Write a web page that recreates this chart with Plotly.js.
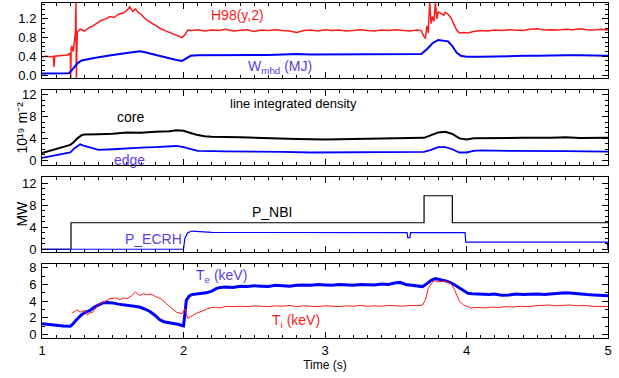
<!DOCTYPE html>
<html><head><meta charset="utf-8">
<script src="https://cdn.plot.ly/plotly-3.0.1.min.js"></script>
<style>html,body{margin:0;padding:0;background:#fff;}#chart{width:619px;height:378px;}</style>
</head><body><div id="chart"></div>
<script>
// ---- Panel 1: H98(y,2) and W_mhd (MJ)
const h98T = [1.00,1.03,1.06,1.08,1.085,1.09,1.12,1.15,1.18,1.20,1.203,1.206,1.21,1.22,1.23,1.236,1.24,1.243,1.247,1.25,1.27,1.30,1.33,1.36,1.39,1.42,1.45,1.48,1.51,1.54,1.57,1.60,1.62,1.64,1.66,1.68,1.70,1.72,1.75,1.78,1.81,1.84,1.87,1.90,1.93,1.96,1.99,2.01,2.03,2.06,2.10,2.15,2.20,2.25,2.30,2.35,2.40,2.45,2.50,2.55,2.60,2.65,2.70,2.75,2.80,2.85,2.90,2.95,3.00,3.05,3.10,3.15,3.20,3.25,3.30,3.35,3.40,3.45,3.50,3.55,3.60,3.65,3.68,3.70,3.71,3.72,3.73,3.74,3.75,3.76,3.77,3.78,3.79,3.80,3.82,3.84,3.85,3.87,3.89,3.91,3.93,3.95,3.98,4.01,4.05,4.10,4.15,4.20,4.25,4.30,4.35,4.40,4.45,4.50,4.55,4.60,4.65,4.70,4.75,4.80,4.85,4.90,4.95,5.00];
const h98V = [0.39,0.40,0.39,0.40,0.17,0.40,0.41,0.42,0.43,0.47,-0.07,0.55,0.62,0.50,0.85,0.90,1.56,-0.07,0.60,0.92,0.98,0.94,1.01,1.05,1.12,1.17,1.20,1.25,1.23,1.30,1.32,1.38,1.46,1.36,1.41,1.34,1.30,1.23,1.16,1.10,1.04,0.99,0.95,0.91,0.88,0.84,0.80,0.86,0.96,0.95,0.97,0.94,0.96,0.95,0.98,0.94,0.96,0.97,0.93,0.96,0.95,0.97,0.95,0.94,0.91,0.95,0.96,0.94,0.97,0.95,0.96,0.94,0.95,0.97,0.95,0.94,0.96,0.95,0.97,0.95,0.94,0.96,0.95,0.82,0.78,1.05,0.90,1.56,1.10,1.25,1.15,1.56,1.20,1.35,1.32,1.28,1.34,1.30,1.22,1.08,0.96,0.90,0.91,0.90,0.93,0.95,0.94,0.96,0.95,0.97,0.96,0.95,0.98,0.99,0.96,0.97,0.96,0.98,0.97,0.99,0.97,0.96,0.98,0.96];
const wmhdT = [1.00,1.10,1.19,1.21,1.23,1.25,1.28,1.32,1.36,1.40,1.45,1.50,1.55,1.60,1.65,1.69,1.72,1.76,1.80,1.85,1.90,1.95,1.99,2.02,2.05,2.10,2.20,2.30,2.40,2.50,2.60,2.70,2.80,2.90,3.00,3.10,3.20,3.30,3.40,3.50,3.60,3.68,3.72,3.76,3.80,3.84,3.87,3.90,3.93,3.96,4.00,4.10,4.20,4.30,4.40,4.50,4.60,4.70,4.80,4.90,5.00];
const wmhdV = [0.03,0.03,0.04,0.10,0.18,0.25,0.31,0.34,0.36,0.38,0.41,0.43,0.45,0.47,0.49,0.51,0.49,0.46,0.42,0.38,0.35,0.32,0.30,0.35,0.41,0.42,0.42,0.43,0.42,0.43,0.43,0.44,0.45,0.44,0.44,0.45,0.44,0.45,0.44,0.45,0.44,0.45,0.55,0.68,0.75,0.74,0.72,0.62,0.48,0.41,0.39,0.39,0.40,0.40,0.41,0.41,0.42,0.42,0.42,0.42,0.41];
// ---- Panel 2: line integrated density (10^19 m^-2)
const coreT = [1.00,1.10,1.20,1.22,1.25,1.28,1.30,1.40,1.50,1.60,1.70,1.80,1.90,1.95,2.00,2.05,2.10,2.15,2.20,2.40,2.60,2.80,2.90,3.00,3.20,3.40,3.60,3.70,3.75,3.80,3.85,3.90,3.95,4.00,4.05,4.20,4.40,4.60,4.70,4.80,5.00];
const coreV = [1.3,2.0,2.8,3.2,4.0,4.6,4.7,4.75,4.85,5.1,5.05,5.2,5.3,5.5,5.4,5.0,4.6,4.4,4.3,4.2,4.0,3.9,3.85,3.8,3.9,3.95,4.0,4.1,4.6,5.1,5.2,4.8,4.0,3.8,4.0,4.1,4.1,4.1,4.2,4.05,4.1];
const edgeT = [1.00,1.10,1.20,1.23,1.27,1.30,1.35,1.40,1.50,1.60,1.70,1.80,1.90,1.95,2.00,2.05,2.10,2.30,2.50,2.70,2.90,3.20,3.50,3.70,3.75,3.80,3.85,3.90,3.95,4.00,4.05,4.10,4.30,4.50,4.70,5.00];
const edgeV = [0.4,0.9,1.4,2.2,2.9,2.6,2.2,1.9,2.0,2.2,2.3,2.4,2.5,2.6,2.4,2.0,1.7,1.6,1.6,1.5,1.4,1.4,1.45,1.5,1.9,2.4,2.4,2.0,1.4,1.4,1.7,1.8,1.7,1.7,1.65,1.55];
// ---- Panel 3: heating power (MW)
const nbiT = [1.0,1.205,3.70,3.90,5.0];
const nbiV = [0,4.8,9.7,4.8,4.8];
const ecrhT = [1.0,2.0,2.01,2.03,2.06,2.2,3.58,3.585,3.60,3.605,3.99,3.995,4.995,5.0];
const ecrhV = [0,0,2.0,3.0,3.3,3.05,3.0,2.1,2.1,3.0,3.0,1.3,1.3,0];
// ---- Panel 4: temperatures (keV)
const teT = [1.00,1.05,1.10,1.15,1.20,1.22,1.25,1.28,1.31,1.34,1.37,1.40,1.43,1.46,1.50,1.54,1.58,1.62,1.66,1.69,1.72,1.76,1.80,1.83,1.86,1.90,1.93,1.96,1.99,2.00,2.01,2.02,2.04,2.06,2.09,2.12,2.16,2.20,2.23,2.26,2.30,2.35,2.40,2.45,2.50,2.55,2.60,2.65,2.70,2.75,2.80,2.85,2.90,2.95,3.00,3.05,3.10,3.15,3.20,3.25,3.30,3.35,3.40,3.45,3.50,3.53,3.57,3.61,3.65,3.69,3.72,3.75,3.78,3.80,3.83,3.86,3.89,3.92,3.95,3.98,4.01,4.04,4.08,4.12,4.16,4.20,4.25,4.30,4.35,4.40,4.45,4.50,4.55,4.60,4.65,4.70,4.75,4.80,4.85,4.90,4.95,5.00];
const teV = [1.30,1.20,1.10,1.05,1.00,1.30,1.90,2.40,2.70,2.90,3.30,3.60,3.80,3.85,3.80,3.65,3.55,3.50,3.40,3.30,3.10,2.80,2.30,1.80,1.55,1.45,1.35,1.25,1.10,1.05,2.50,4.10,4.60,4.80,4.85,4.90,5.00,5.20,5.50,5.65,5.70,5.65,5.80,5.75,5.85,5.80,5.75,5.90,5.85,5.80,5.90,5.95,5.90,6.00,5.95,5.90,6.00,5.95,5.90,6.00,5.95,5.95,6.05,6.00,6.20,6.25,6.00,5.90,5.85,5.75,6.10,6.50,6.70,6.60,6.50,6.40,6.20,5.90,5.55,5.20,4.95,4.90,4.85,4.85,4.80,4.85,4.70,4.75,4.85,4.80,4.85,4.85,4.80,4.85,4.90,5.00,4.95,4.85,4.80,4.75,4.70,4.65];
const tiT = [1.21,1.225,1.245,1.27,1.30,1.32,1.34,1.36,1.38,1.41,1.44,1.48,1.52,1.55,1.58,1.60,1.63,1.66,1.69,1.72,1.74,1.77,1.81,1.84,1.88,1.91,1.95,1.99,2.00,2.01,2.03,2.06,2.09,2.13,2.17,2.21,2.26,2.30,2.35,2.40,2.45,2.50,2.55,2.60,2.65,2.70,2.75,2.80,2.85,2.90,2.95,3.00,3.05,3.10,3.15,3.20,3.25,3.30,3.35,3.40,3.45,3.50,3.55,3.60,3.65,3.69,3.71,3.73,3.75,3.77,3.80,3.83,3.86,3.89,3.91,3.93,3.95,3.98,4.03,4.08,4.13,4.18,4.23,4.28,4.33,4.38,4.43,4.48,4.53,4.58,4.63,4.68,4.73,4.78,4.83,4.88,4.93,5.00];
const tiV = [2.55,2.75,2.95,2.70,2.90,2.35,2.60,2.70,3.20,3.70,4.00,4.30,4.40,4.20,4.40,4.30,4.60,5.10,4.70,4.90,4.80,4.85,4.50,4.30,3.70,3.30,2.70,2.50,2.80,3.10,1.95,2.30,2.55,2.80,3.10,3.30,3.20,3.40,3.35,3.40,3.35,3.45,3.40,3.35,3.45,3.40,3.50,3.35,3.45,3.40,3.35,3.45,3.40,3.35,3.45,3.40,3.50,3.40,3.45,3.40,3.50,3.45,3.40,3.50,3.45,3.55,4.20,5.55,6.10,6.50,6.30,6.40,6.35,6.10,5.55,4.80,4.00,3.55,3.20,3.25,3.20,3.30,3.25,3.35,3.30,3.40,3.35,3.45,3.50,3.55,3.45,3.50,3.55,3.45,3.50,3.40,3.40,3.35];
const xTickVals = [1,2,3,4,5];
const xTickText = ['1','2','3','4','5'];

const RED = '#ff1a1a', BLUE = '#0000ff', PURPLE = '#5b3ee0', BLACK = '#000000';
const FONT = 'Liberation Sans, Arial, Helvetica, sans-serif';

function tr(x, y, ax, line) {
  return {x: x, y: y, xaxis: 'x' + ax, yaxis: 'y' + ax, type: 'scatter', mode: 'lines',
    line: line, hoverinfo: 'skip', showlegend: false};
}
const data = [
  tr(h98T, h98V, '', {color: RED, width: 1.5}),
  tr(wmhdT, wmhdV, '', {color: BLUE, width: 2}),
  tr(coreT, coreV, '2', {color: BLACK, width: 2}),
  tr(edgeT, edgeV, '2', {color: BLUE, width: 1.8}),
  tr(nbiT, nbiV, '3', {color: BLACK, width: 1.2, shape: 'hv'}),
  tr(ecrhT, ecrhV, '3', {color: BLUE, width: 1.2}),
  tr(teT, teV, '4', {color: BLUE, width: 3}),
  tr(tiT, tiV, '4', {color: RED, width: 1})
];
data[0].xaxis = 'x'; data[0].yaxis = 'y';
data[1].xaxis = 'x'; data[1].yaxis = 'y';

const H = 378;
function dom(top, bot) { return [1 - bot / H, 1 - top / H]; }
function xax(anchor, labels) {
  return {anchor: anchor, domain: [0, 1], range: [1, 5], showgrid: false, zeroline: false,
    showline: true, linecolor: BLACK, linewidth: 1, mirror: 'allticks', ticks: 'inside', ticklen: 6,
    tickcolor: BLACK, tickmode: 'array', tickvals: xTickVals, ticktext: xTickText,
    showticklabels: labels, tickfont: {family: FONT, size: 13, color: BLACK},
    minor: {dtick: 0.1, ticklen: 3, tickcolor: BLACK, ticks: 'inside'}};
}
function yax(anchor, d, range, dtick, minor, fmt) {
  return {anchor: anchor, domain: d, range: range, showgrid: false, zeroline: false,
    showline: true, linecolor: BLACK, linewidth: 1, mirror: 'allticks', ticks: 'inside', ticklen: 6,
    tickcolor: BLACK, tick0: 0, dtick: dtick, tickformat: fmt, ticklabelstandoff: 2,
    tickfont: {family: FONT, size: 13, color: BLACK},
    minor: {dtick: minor, ticklen: 3, tickcolor: BLACK, ticks: 'inside'}};
}
function ann(text, x, y, ax, color, size) {
  return {text: text, x: x, y: y, xref: 'x' + ax, yref: 'y' + ax, showarrow: false,
    font: {family: FONT, size: size, color: color}, xanchor: 'center', yanchor: 'middle'};
}
function sideTitle(text, ypx) {
  return {text: text, xref: 'paper', yref: 'paper', x: -0.036, y: 1 - ypx / H,
    textangle: -90, showarrow: false, xanchor: 'center', yanchor: 'middle',
    font: {family: FONT, size: 14, color: BLACK}};
}
const layout = {
  width: 619, height: 378, paper_bgcolor: '#fff', plot_bgcolor: '#fff',
  margin: {l: 42, r: 11, t: 0, b: 0}, showlegend: false,
  xaxis: xax('y', false), xaxis2: xax('y2', false), xaxis3: xax('y3', false),
  xaxis4: Object.assign(xax('y4', true), {title: {text: 'Time (s)', font: {family: FONT, size: 12, color: BLACK}, standoff: 2}}),
  yaxis: yax('x', dom(3, 78), [-0.064, 1.54], 0.4, 0.1, '.1f'),
  yaxis2: yax('x2', dom(90, 165), [-0.9, 12.9], 4, 1, 'd'),
  yaxis3: yax('x3', dom(177, 252), [-0.5, 13.1], 4, 1, 'd'),
  yaxis4: yax('x4', dom(264, 338), [-0.4, 8.45], 2, 1, 'd'),
  annotations: [
    ann('H98(y,2)', 2.385, 1.28, '', RED, 14),
    ann('W<sub>mhd</sub> (MJ)', 2.68, 0.17, '', PURPLE, 14),
    ann('line integrated density', 2.774, 10.5, '2', BLACK, 13),
    ann('core', 1.622, 7.9, '2', BLACK, 14),
    ann('edge', 1.615, 0.1, '2', PURPLE, 14),
    ann('P_NBI', 2.625, 6.7, '3', BLACK, 14),
    ann('P_ECRH', 1.785, 1.8, '3', PURPLE, 14),
    ann('T<sub>e</sub> (keV)', 2.265, 7.0, '4', PURPLE, 14),
    ann('T<sub>i</sub> (keV)', 2.795, 1.6, '4', RED, 14),
    sideTitle('10¹⁹ m⁻²', 128),
    sideTitle('MW', 214)
  ]
};
Plotly.newPlot('chart', data, layout, {staticPlot: true, displayModeBar: false});
</script></body></html>
